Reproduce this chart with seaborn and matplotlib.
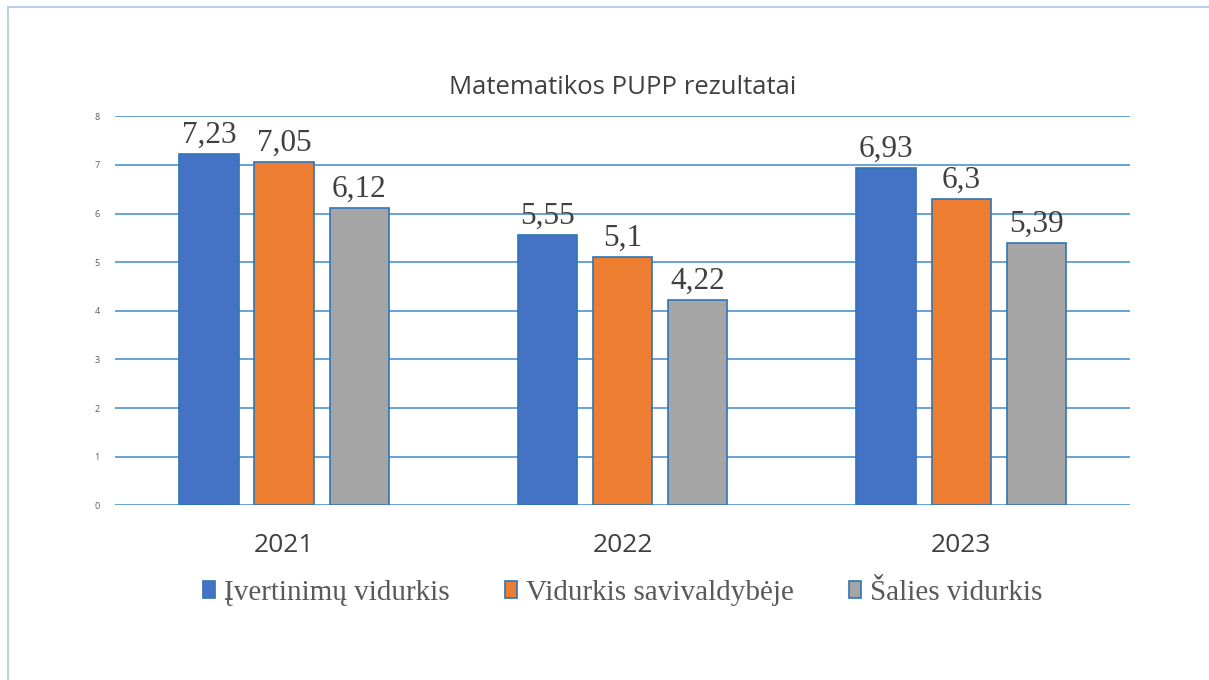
import matplotlib
matplotlib.use("Agg")
import matplotlib.pyplot as plt
import seaborn as sns
import pandas as pd
from matplotlib.patches import Rectangle

# chart data
years = ["2021", "2022", "2023"]
series_names = ["Įvertinimų vidurkis", "Vidurkis savivaldybėje", "Šalies vidurkis"]
ivertinimu = [7.23, 5.55, 6.93]
savivaldybe = [7.05, 5.10, 6.30]
salies = [6.12, 4.22, 5.39]
colors = ["#4472C4", "#ED7D31", "#A5A5A5"]

rows = []
for name, vals in zip(series_names, [ivertinimu, savivaldybe, salies]):
    for y, v in zip(years, vals):
        rows.append({"Metai": y, "Serija": name, "Reiksme": v})
df = pd.DataFrame(rows)

sns.set_style("white")
plt.rcParams['font.family'] = ['Open Sans', 'DejaVu Sans']

fig = plt.figure(figsize=(12.09, 6.8), dpi=100)
ax = fig.add_axes([0.095, 0.257, 0.84, 0.572])

sns.barplot(data=df, x="Metai", y="Reiksme", hue="Serija", palette=colors,
            saturation=1, width=0.665, gap=0.21, edgecolor="#2E75B6", linewidth=1.2,
            ax=ax, legend=True, zorder=3)

ax.set_ylim(0, 8)
ax.set_xlim(-0.5, 2.5)
ax.set_yticks(range(0, 9))
ax.yaxis.grid(True, color="#5B9BD5", linewidth=1.3, zorder=0)
ax.set_axisbelow(True)
for s in ax.spines.values():
    s.set_visible(False)
ax.tick_params(axis="y", length=0, labelsize=6.5, labelcolor="#595959", pad=11)
ax.tick_params(axis="x", length=0, labelsize=19, labelcolor="#404040", pad=20)
ax.set_xlabel("")
ax.set_ylabel("")

# value labels with decimal comma
for cont, vals in zip(ax.containers, [ivertinimu, savivaldybe, salies]):
    labels = [("%g" % v).replace(".", ",") for v in vals]
    ax.bar_label(cont, labels=labels, padding=3, fontsize=22.5,
                 family="Liberation Serif", color="#404040")

ax.set_title("Matematikos PUPP rezultatai", fontsize=18.5, color="#404040", pad=16)

handles, lbls = ax.get_legend_handles_labels()
ax.legend(handles, lbls, loc="upper center", bbox_to_anchor=(0.5, -0.125), ncol=3,
          frameon=False, prop={"family": "Liberation Serif", "size": 21},
          labelcolor="#595959", handlelength=0.42, handleheight=0.52,
          handletextpad=0.3, columnspacing=1.9)

# chart frame border
fig.patches.append(Rectangle((8 / 1209, -0.1), 1.2, 1.1 - 7 / 680, transform=fig.transFigure,
                             fill=False, edgecolor="#A9C6E8", linewidth=1.2))

fig.savefig("out.png", dpi=100, facecolor="white")
